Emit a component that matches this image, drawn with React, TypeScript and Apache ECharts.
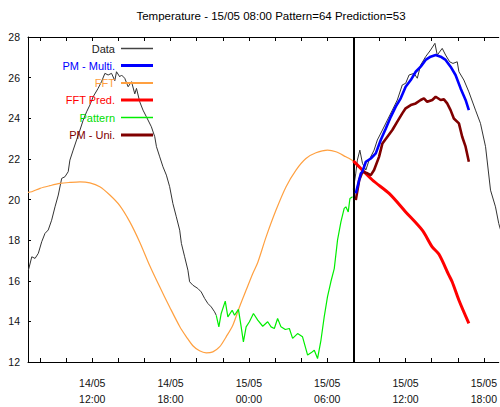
import React, { useEffect, useRef } from "react";
import * as echarts from "echarts";

// time values are hours counted from 14/05 00:00
const titleText = "Temperature - 15/05 08:00 Pattern=64 Prediction=53";
const xTickHours = [8, 10, 12, 14, 16, 18, 20, 22, 24, 26, 28, 30, 32, 34, 36, 38, 40, 42];
const xLabelHours = [12, 18, 24, 30, 36, 42];
const nowHour = 32;

const dataLeft: [number, number][] = [
  [7.11, 16.52], [7.37, 17.18], [7.62, 17.1], [7.87, 17.35], [8.13, 17.92], [8.38, 18.33],
  [8.63, 18.5], [8.89, 18.98], [9.15, 19.64], [9.4, 20.22], [9.66, 21.04], [9.91, 21.12],
  [10.16, 21.37], [10.29, 21.94], [10.54, 22.43], [10.8, 22.93], [11.06, 23.42], [11.31, 23.91],
  [11.57, 24.32], [11.82, 24.65], [12.07, 25.06], [12.45, 25.47], [12.71, 25.8], [12.97, 26.21],
  [13.22, 26.13], [13.48, 26.21], [13.73, 25.85], [13.86, 26.29], [14.11, 26.04], [14.24, 26.13],
  [14.49, 25.97], [14.75, 25.55], [15.01, 25.8], [15.26, 25.2], [15.39, 25.47], [15.64, 24.81],
  [15.89, 24.4], [16.15, 24.07], [16.53, 23.58], [16.79, 23.09], [16.92, 22.6], [17.17, 22.1],
  [17.42, 21.61], [17.68, 21.2], [17.93, 20.63], [18.18, 19.8], [18.44, 19.15], [18.7, 18.49],
  [18.83, 17.84], [19.08, 17.18], [19.33, 16.52], [19.46, 15.95], [19.71, 15.78], [20.09, 15.62],
  [20.35, 15.45], [20.61, 15.13], [20.86, 14.88], [21.12, 14.71], [21.37, 14.47], [21.5, 14.3]
];

const dataRight: [number, number][] = [
  [32.0, 20.5], [32.19, 21.3], [32.31, 21.94], [32.5, 22.43], [32.7, 21.78], [32.96, 21.45],
  [33.21, 21.94], [33.59, 22.43], [33.84, 22.93], [34.23, 23.42], [34.61, 23.91], [34.99, 24.4],
  [35.37, 24.9], [35.75, 25.64], [36.01, 25.72], [36.27, 26.13], [36.65, 26.21], [36.9, 25.97],
  [37.16, 26.62], [37.54, 27.03], [37.92, 27.36], [38.25, 27.69], [38.43, 27.11], [38.81, 27.44],
  [39.07, 27.11], [39.38, 26.78], [39.63, 26.7], [39.96, 26.78], [40.09, 26.29], [40.47, 25.88],
  [40.85, 25.3], [41.36, 24.4], [41.74, 23.75], [42.13, 22.6], [42.51, 20.46], [42.89, 19.64],
  [43.14, 18.82], [43.5, 18.0]
];

const pattern: [number, number][] = [
  [21.5, 14.3], [21.7, 13.73], [21.88, 14.39], [22.19, 15.0], [22.39, 14.22], [22.72, 14.55],
  [22.9, 14.3], [23.2, 14.59], [23.41, 13.73], [23.58, 12.99], [23.79, 13.73], [24.04, 13.98],
  [24.35, 14.39], [24.68, 14.06], [25.06, 13.76], [25.44, 13.98], [25.7, 13.73], [25.95, 13.65],
  [26.2, 14.14], [26.46, 13.73], [26.79, 13.6], [27.1, 13.65], [27.35, 13.16], [27.73, 13.4],
  [28.11, 13.24], [28.5, 12.34], [28.76, 12.45], [29.01, 12.58], [29.26, 12.17], [29.52, 13.07],
  [29.77, 14.22], [30.02, 15.21], [30.28, 15.95], [30.54, 16.6], [30.79, 18.0], [31.05, 18.9],
  [31.3, 19.56], [31.43, 19.64], [31.61, 19.39], [31.74, 20.05], [31.94, 20.13]
];

const fft: [number, number][] = [
  [7.08, 20.35], [7.37, 20.38], [8.0, 20.55], [8.76, 20.68], [9.53, 20.79], [10.29, 20.84],
  [11.06, 20.87], [11.82, 20.82], [12.58, 20.63], [13.35, 20.22], [14.11, 19.7], [14.88, 18.9],
  [15.64, 17.9], [16.4, 16.75], [17.17, 15.7], [17.93, 14.71], [18.7, 13.75], [19.21, 13.24],
  [19.71, 12.8], [20.22, 12.55], [20.73, 12.45], [21.24, 12.5], [21.75, 12.74], [22.26, 13.24],
  [22.77, 13.81], [23.28, 14.71], [23.79, 15.54], [24.3, 16.36], [24.68, 16.9], [25.32, 18.16],
  [26.08, 19.48], [26.85, 20.63], [27.61, 21.45], [28.37, 22.02], [29.14, 22.3], [30.02, 22.43],
  [30.67, 22.35], [31.43, 22.1], [32.0, 21.9]
];

const fftPred: [number, number][] = [
  [32.0, 21.9], [32.19, 21.78], [33.46, 20.96], [34.74, 20.3], [36.01, 19.39], [37.28, 18.49],
  [38.04, 17.67], [38.56, 17.3], [39.3, 16.3], [39.57, 15.95], [40.09, 15.04], [40.85, 13.9]
];

const pmMulti: [number, number][] = [
  [32.19, 20.3], [32.45, 20.96], [32.58, 21.29], [32.7, 21.37], [32.96, 21.86], [33.34, 22.02],
  [33.72, 22.27], [34.1, 22.93], [34.49, 23.5], [34.87, 24.07], [35.25, 24.57], [35.63, 24.98],
  [36.01, 25.55], [36.4, 25.88], [36.78, 26.29], [37.16, 26.54], [37.54, 26.87], [37.92, 27.03],
  [38.31, 27.11], [38.69, 27.03], [39.07, 26.87], [39.45, 26.54], [39.83, 26.13], [40.22, 25.47],
  [40.6, 24.9], [40.85, 24.4]
];

const pmUni: [number, number][] = [
  [32.19, 19.97], [32.45, 20.96], [32.7, 21.37], [33.08, 21.29], [33.34, 21.2], [33.59, 21.45],
  [33.97, 22.1], [34.23, 22.76], [34.61, 23.09], [34.99, 23.42], [35.37, 23.83], [35.75, 24.24],
  [36.01, 24.49], [36.4, 24.65], [36.78, 24.73], [37.16, 24.9], [37.41, 24.98], [37.66, 24.81],
  [38.05, 24.9], [38.31, 25.06], [38.69, 24.9], [38.94, 24.93], [39.19, 24.73], [39.45, 24.4],
  [39.7, 23.99], [40.09, 23.75], [40.34, 23.09], [40.6, 22.6], [40.85, 21.86]
];

const FONT = "'Liberation Sans Narrow', 'Arial Narrow', 'Liberation Sans', sans-serif";

const legendItems = [
  { name: "Data", color: "#444444", text: "#222222", h: 1.5, y: 50 },
  { name: "PM - Multi.", color: "#0000ff", text: "#0000ff", h: 3, y: 67 },
  { name: "FFT", color: "#ffa040", text: "#ffa040", h: 2, y: 84.5 },
  { name: "FFT Pred.", color: "#ff0000", text: "#ff0000", h: 3, y: 101.5 },
  { name: "Pattern", color: "#00ee00", text: "#00dd00", h: 1.5, y: 119 },
  { name: "PM - Uni.", color: "#800000", text: "#800000", h: 3, y: 136.5 }
];

function fmtHour(v: number): string {
  const day = v < 24 ? "14/05" : "15/05";
  const hh = Math.round(v) % 24;
  return day + "\n" + (hh < 10 ? "0" : "") + hh + ":00";
}

export default function App() {
  const ref = useRef<HTMLDivElement>(null);
  useEffect(() => {
    document.body.style.margin = "0";
    if (!ref.current) return;
    const chart = echarts.init(ref.current, null, { renderer: "svg" });
    const xMin = 7.08;
    const xMax = 43.14;
    const axisCommon = {
      type: "value",
      min: xMin,
      max: xMax,
      axisLine: { show: true, onZero: false, lineStyle: { color: "#000", width: 1 } },
      splitLine: { show: false }
    };
    chart.setOption({
      animation: false,
      backgroundColor: "#ffffff",
      title: {
        text: titleText,
        left: 266,
        textAlign: "center",
        top: 5,
        textStyle: { fontFamily: FONT, fontSize: 11.5, fontWeight: "normal", color: "#000" }
      },
      legend: legendItems.map((it) => ({
        data: [it.name],
        orient: "vertical",
        align: "right",
        right: 347,
        top: it.y - 7,
        padding: 0,
        icon: "rect",
        itemWidth: 32,
        itemHeight: it.h,
        itemGap: 0,
        selectedMode: false,
        itemStyle: { color: it.color },
        textStyle: { fontFamily: FONT, fontSize: 11, color: it.text, padding: [0, 1, 0, 0] }
      })),
      grid: { left: 28, top: 37, right: 0, bottom: 45 },
      xAxis: [
        {
          ...axisCommon,
          position: "bottom",
          axisTick: { show: true, inside: true, length: 4, customValues: xTickHours, lineStyle: { color: "#000" } },
          axisLabel: {
            show: true,
            customValues: xLabelHours,
            formatter: (v: number) => fmtHour(v),
            fontFamily: FONT,
            fontSize: 10.5,
            lineHeight: 16,
            color: "#111",
            margin: 13
          }
        },
        {
          ...axisCommon,
          position: "top",
          axisTick: { show: true, inside: true, length: 4, customValues: xTickHours, lineStyle: { color: "#000" } },
          axisLabel: { show: false }
        }
      ],
      yAxis: {
        type: "value",
        min: 12,
        max: 28,
        interval: 2,
        axisLine: { show: true, lineStyle: { color: "#000", width: 1 } },
        axisTick: { show: true, inside: true, length: 3, lineStyle: { color: "#000" } },
        splitLine: { show: false },
        axisLabel: { fontFamily: FONT, fontSize: 10.5, color: "#111", margin: 8 }
      },
      series: [
        {
          name: "Data",
          type: "line",
          data: [...dataLeft, [null, null], ...dataRight],
          connectNulls: false,
          showSymbol: false,
          color: "#444444",
          lineStyle: { color: "#333333", width: 1 },
          z: 2,
          markLine: {
            silent: true,
            symbol: ["none", "none"],
            label: { show: false },
            lineStyle: { color: "#000", width: 2, type: "solid" },
            data: [{ xAxis: nowHour }]
          }
        },
        {
          name: "FFT",
          type: "line",
          data: fft,
          showSymbol: false,
          smooth: 0.3,
          color: "#ffa040",
          lineStyle: { color: "#ffa040", width: 1.2 },
          z: 3
        },
        {
          name: "Pattern",
          type: "line",
          data: pattern,
          showSymbol: false,
          color: "#00ee00",
          lineStyle: { color: "#00ee00", width: 1.2 },
          z: 4
        },
        {
          name: "FFT Pred.",
          type: "line",
          data: fftPred,
          showSymbol: false,
          smooth: 0.3,
          color: "#ff0000",
          lineStyle: { color: "#ff0000", width: 3 },
          z: 5
        },
        {
          name: "PM - Uni.",
          type: "line",
          data: pmUni,
          showSymbol: false,
          color: "#800000",
          lineStyle: { color: "#800000", width: 2.6 },
          z: 6
        },
        {
          name: "PM - Multi.",
          type: "line",
          data: pmMulti,
          showSymbol: false,
          color: "#0000ff",
          lineStyle: { color: "#0000ff", width: 2.6 },
          z: 7
        }
      ]
    });
    return () => chart.dispose();
  }, []);
  return <div ref={ref} style={{ width: 500, height: 407 }} />;
}
